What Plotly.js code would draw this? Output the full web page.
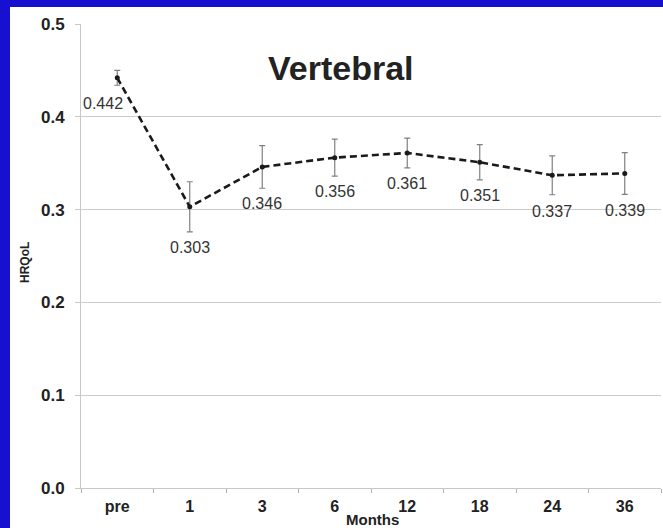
<!DOCTYPE html>
<html>
<head>
<meta charset="utf-8">
<script src="https://cdn.plot.ly/plotly-3.0.1.min.js"></script>
<style>
  html, body { margin: 0; padding: 0; background: #1810d0; width: 663px; height: 528px; overflow: hidden; }
  #chart { position: absolute; left: 10px; top: 7px; width: 653px; height: 521px; }
</style>
</head>
<body>
<div id="chart"></div>
<script>
// Data
const months = ["pre", "1", "3", "6", "12", "18", "24", "36"];
const hrqol = [0.442, 0.303, 0.346, 0.356, 0.361, 0.351, 0.337, 0.339];
const errors = [0.008, 0.027, 0.023, 0.020, 0.016, 0.019, 0.021, 0.0225];
const valueLabels = ["0.442", "0.303", "0.346", "0.356", "0.361", "0.351", "0.337", "0.339"];
const chartTitle = "Vertebral";
const xTitle = "Months";
const yTitle = "HRQoL";

// Label placement (style only)
const labelXShift = [-14, 0, 0, 0, 0, 0, 0, 0];
const labelYShift = [-8, -5, -5, -5, -5, -5, -6, -6];

const fontFam = "Arial, 'Liberation Sans', Helvetica, sans-serif";

const trace = {
  x: months,
  y: hrqol,
  type: "scatter",
  mode: "lines+markers",
  line: { color: "#1a1a1a", width: 2.6, dash: "7px,4px" },
  marker: { color: "#1a1a1a", size: 5 },
  error_y: { type: "data", array: errors, visible: true, color: "#808080", thickness: 1.2, width: 3 },
  hoverinfo: "skip"
};

// category index positions (numeric strings would be read as positions)
const annotations = months.map((m, i) => ({
  x: i, y: hrqol[i] - errors[i], xref: "x", yref: "y",
  text: valueLabels[i], showarrow: false,
  xanchor: "center", yanchor: "top",
  xshift: labelXShift[i], yshift: labelYShift[i],
  font: { family: fontFam, size: 16, color: "#333333" }
}));

annotations.push({
  x: 0.448, y: 0.905, xref: "paper", yref: "paper",
  text: chartTitle, showarrow: false, xanchor: "center", yanchor: "middle",
  font: { family: fontFam, size: 34, color: "#222222", weight: "bold" }
});
annotations.push({
  x: 0.502, y: -0.068, xref: "paper", yref: "paper",
  text: xTitle, showarrow: false, xanchor: "center", yanchor: "middle",
  font: { family: fontFam, size: 15, color: "#222222", weight: "bold" }
});
annotations.push({
  x: -0.0966, y: 0.487, xref: "paper", yref: "paper",
  text: yTitle, showarrow: false, xanchor: "center", yanchor: "middle", textangle: -90,
  font: { family: fontFam, size: 12, color: "#222222", weight: "bold" }
});

const layout = {
  width: 653, height: 521,
  margin: { l: 71, r: 2, t: 17, b: 40 },
  paper_bgcolor: "#ffffff",
  plot_bgcolor: "#ffffff",
  showlegend: false,
  xaxis: {
    type: "category",
    range: [-0.5, 7.5],
    tickson: "boundaries",
    ticks: "outside", ticklen: 4, tickcolor: "#b0b0b0", tickwidth: 1,
    ticklabelstandoff: 4,
    showgrid: false,
    showline: true, linecolor: "#c8c8c8", linewidth: 1,
    tickfont: { family: fontFam, size: 16, color: "#222222", weight: "bold" },
    zeroline: false,
    fixedrange: true
  },
  yaxis: {
    range: [0, 0.5],
    tickvals: [0, 0.1, 0.2, 0.3, 0.4, 0.5],
    ticktext: ["0.0", "0.1", "0.2", "0.3", "0.4", "0.5"],
    ticks: "outside", ticklen: 5, tickcolor: "#c8c8c8", tickwidth: 1,
    ticklabelstandoff: 7,
    showgrid: true, gridcolor: "#cccccc", gridwidth: 1,
    showline: true, linecolor: "#c8c8c8", linewidth: 1,
    zeroline: false,
    tickfont: { family: fontFam, size: 17, color: "#222222", weight: "bold" },
    fixedrange: true
  },
  annotations: annotations
};

Plotly.newPlot("chart", [trace], layout, { displayModeBar: false, staticPlot: true });
</script>
</body>
</html>
